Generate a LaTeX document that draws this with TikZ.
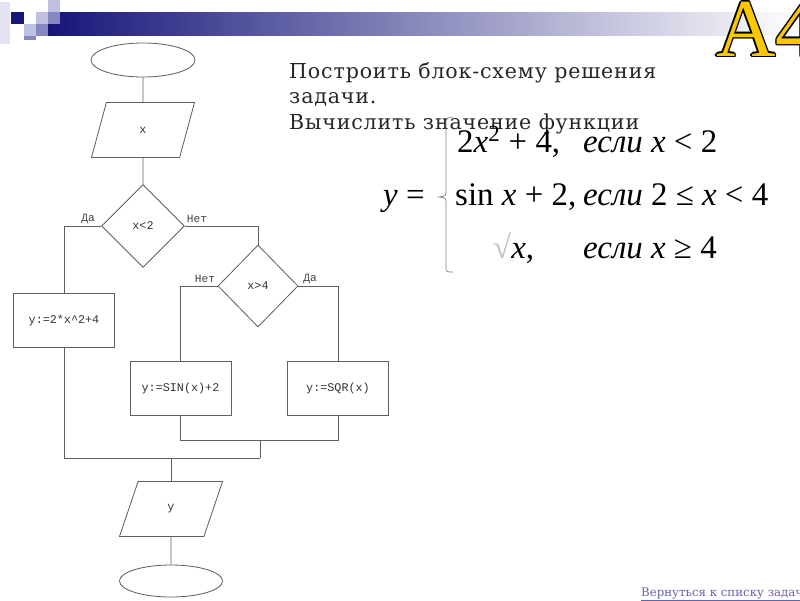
\documentclass[tikz,border=0pt]{standalone}
\usepackage{fontspec}
\setmainfont{DejaVu Serif}
\setmonofont{Liberation Mono}
\newfontfamily\formfont{Liberation Serif}
\newfontfamily\wideserif[LetterSpace=4]{DejaVu Serif}
\usetikzlibrary{shapes.geometric, positioning}
\definecolor{navy}{RGB}{22,22,122}
\definecolor{midlav}{RGB}{134,134,192}
\definecolor{lightlav}{RGB}{192,192,226}
\definecolor{palelav}{RGB}{226,226,242}
\definecolor{flow}{RGB}{95,95,95}
\definecolor{gold}{RGB}{250,200,0}
\definecolor{linkc}{RGB}{100,100,170}

\tikzset{
  box/.style={draw=flow, line width=0.7pt, inner sep=0pt, text=black!80,
    font=\ttfamily\fontsize{10}{12}\selectfont},
  term/.style={box, ellipse, minimum width=88.4pt, minimum height=28.9pt},
  io/.style={box, trapezium, trapezium left angle=77, trapezium right angle=103,
    trapezium stretches=true, minimum width=87.6pt, minimum height=46.75pt},
  cond/.style={box, diamond, aspect=1},
  act/.style={box, rectangle, minimum width=85.9pt, minimum height=45.9pt},
  lbl/.style={inner sep=0pt, text=black!75, font=\ttfamily\fontsize{9.5}{10}\selectfont},
  flowline/.style={draw=flow, line width=0.7pt},
  title/.style={anchor=base west, inner sep=0pt, text=black!85,
    font=\wideserif\fontsize{17.5}{20}\selectfont},
  form/.style={anchor=base west, inner sep=0pt, font=\formfont\fontsize{28}{30}\selectfont},
  logo/.style={anchor=base west, inner sep=0pt, font=\formfont\fontsize{70}{70}\selectfont}
}

\begin{document}
\begin{tikzpicture}[x=0.85pt, y=-0.85pt]
\useasboundingbox (0,0) rectangle (800,600);

% banner
\shade[left color=navy, middle color=navy!58!white, right color=white] (48,12) rectangle (800,35);
\fill[palelav] (0,2) rectangle (10,44);
\fill[navy] (11,12) rectangle (24,24);
\fill[lightlav] (48,0) rectangle (60,12);
\fill[lightlav] (36,12) rectangle (48,24);
\fill[midlav] (48,12) rectangle (60,24);
\fill[lightlav] (24,24) rectangle (36,36);
\fill[midlav] (36,24) rectangle (48,36);
\fill[midlav] (24,36) rectangle (36,40);

% logo
\foreach \dx/\dy [count=\i] in {-1.5/0,1.5/0,0/-1.5,0/1.5,-1/-1,1/1,-1/1,1/-1}
  \node[logo, text=black] (a4\i) at (716+\dx,56+\dy) {A4};
\node[logo, text=gold] (a4) at (716,56) {A4};

% flowchart
\node[term] (start) at (143,60) {};
\node[io] (inx) at (143,130) {x};
\node[cond, minimum width=70.5pt, minimum height=70.5pt] (c1) at (143,226) {x<2};
\node[cond, minimum width=68pt, minimum height=69.7pt] (c2) at (258,286) {x>4};
\node[act] (b1) at (64,320) {y:=2*x\textasciicircum2+4};
\node[act] (b2) at (180.5,388.5) {y:=SIN(x)+2};
\node[act] (b3) at (338,388.5) {y:=SQR(x)};
\node[io] (outy) at (171,509) {y};
\node[term, minimum width=87.6pt, minimum height=27.2pt] (stop) at (171,581) {};

\node[lbl] (yes1) at (88,219) {Да};
\node[lbl] (no1) at (197,219) {Нет};
\node[lbl] (no2) at (205,279) {Нет};
\node[lbl] (yes2) at (310,279) {Да};

\coordinate (j1) at (260,440);
\coordinate (j2) at (260,458);
\draw[flowline] (start) -- (inx);
\draw[flowline] (inx) -- (c1);
\draw[flowline] (c1.west) -| (b1.north);
\draw[flowline] (c1.east) -| (c2.north);
\draw[flowline] (c2.west) -| (b2.north);
\draw[flowline] (c2.east) -| (b3.north);
\draw[flowline] (b2.south) |- (j1) -| (b3.south);
\draw[flowline] (j1) -- (j2);
\draw[flowline] (b1.south) |- (j2);
\draw[flowline] (outy.north |- j2) -- (outy.north);
\draw[flowline] (outy) -- (stop);

% task text
\node[title] (t1) at (289,78) {Построить блок-схему решения};
\node[title] (t2) at (289,103) {задачи.};
\node[title] (t3) at (289,129) {Вычислить значение функции};

% formula
\node[form] (fy) at (383,205) {\textit{y} =};
\draw[gray, line width=0.6pt] (453,117) .. controls (446,118) .. (446,124) -- (446,190)
  .. controls (446,196) .. (439,197) .. controls (446,198) .. (446,204) -- (446,266)
  .. controls (446,272) .. (453,272);
\node[form] (f1a) at (457,152) {2\textit{x}\textsuperscript{2} + 4,};
\node[form] (f1b) at (583,152) {\textit{если x} < 2};
\node[form] (f2a) at (455,205) {sin \textit{x} + 2,};
\node[form] (f2b) at (583,205) {\textit{если} 2 ≤ \textit{x} < 4};
\node[form] (f3a) at (493,258) {\textcolor{gray!50}{√}\textit{x},};
\node[form] (f3b) at (583,258) {\textit{если x} ≥ 4};

% link
\node[anchor=base west, inner sep=0pt, text=linkc, font=\fontsize{10}{12}\selectfont]
  (back) at (641,596) {\underline{Вернуться к списку задач}};
\end{tikzpicture}
\end{document}
